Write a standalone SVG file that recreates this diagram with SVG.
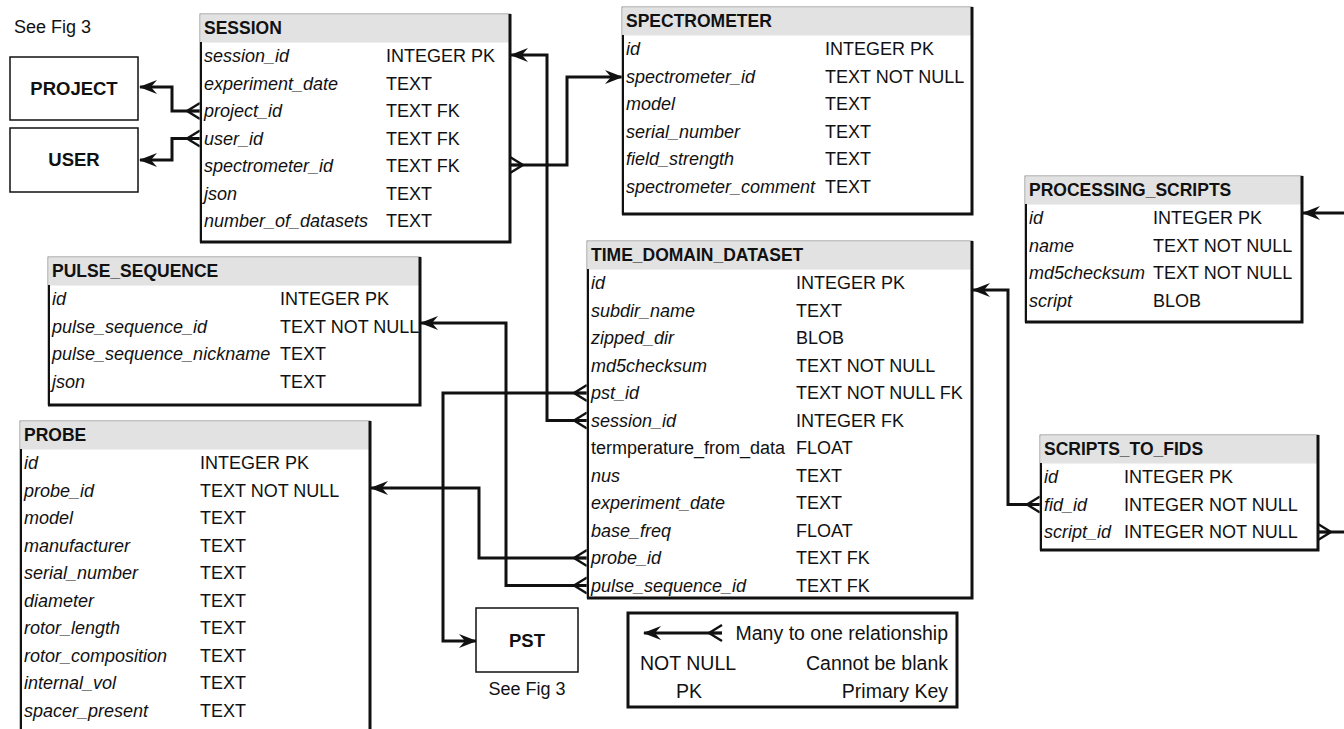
<svg xmlns="http://www.w3.org/2000/svg" width="1344" height="729" viewBox="0 0 1344 729">
<style>
.frame{fill:#fff;stroke:#8a8a8a;stroke-width:1}
.hdr{fill:#e2e2e2}
.edgeR{fill:none;stroke:#111;stroke-width:3}
.edgeL{fill:none;stroke:#111;stroke-width:2}
.box{fill:#fff;stroke:#111;stroke-width:1.5}
.n{font-family:"Liberation Sans",Arial,sans-serif;font-size:18px;font-style:italic;fill:#111}
.t{font-family:"Liberation Sans",Arial,sans-serif;font-size:18px;fill:#111}
.lg{font-family:"Liberation Sans",Arial,sans-serif;font-size:19.5px;fill:#111}
.h{font-family:"Liberation Sans",Arial,sans-serif;font-size:17.5px;font-weight:bold;fill:#111}
.b{font-family:"Liberation Sans",Arial,sans-serif;font-size:18.5px;font-weight:bold;fill:#111}
.conn{fill:none;stroke:#111;stroke-width:3}
</style>
<defs>
<marker id="arrow" viewBox="0 0 18 14" refX="17" refY="7" markerWidth="18" markerHeight="14" markerUnits="userSpaceOnUse" orient="auto">
<path d="M18,7 L0,0 L6,7 L0,14 Z" fill="#111"/>
</marker>
<marker id="crow" viewBox="-1 -10 16 20" refX="0" refY="0" markerWidth="16" markerHeight="20" markerUnits="userSpaceOnUse" orient="auto">
<path d="M0,-8 L13,0 M0,0 L13,0 M0,8 L13,0" fill="none" stroke="#111" stroke-width="2.4"/>
</marker>
</defs>

<g id="connectors">
<path class="conn" d="M200,111 H172 V87 H140" marker-start="url(#crow)" marker-end="url(#arrow)"/>
<path class="conn" d="M200,138.5 H172 V160 H140" marker-start="url(#crow)" marker-end="url(#arrow)"/>
<path class="conn" d="M510,165 H567 V77 H622" marker-start="url(#crow)" marker-end="url(#arrow)"/>
<path class="conn" d="M587,420.5 H547 V55 H511" marker-start="url(#crow)" marker-end="url(#arrow)"/>
<path class="conn" d="M587,393 H443 V641 H476" marker-start="url(#crow)" marker-end="url(#arrow)"/>
<path class="conn" d="M587,558 H479 V488 H371" marker-start="url(#crow)" marker-end="url(#arrow)"/>
<path class="conn" d="M587,585.5 H506 V323 H421" marker-start="url(#crow)" marker-end="url(#arrow)"/>
<path class="conn" d="M1040,504.5 H1008 V290 H973" marker-start="url(#crow)" marker-end="url(#arrow)"/>
<path class="conn" d="M1344,213 H1303" marker-end="url(#arrow)"/>
<path class="conn" d="M1318,532 H1344" marker-start="url(#crow)"/>
</g>

<text class="t" x="14" y="33">See Fig 3</text>

<g id="project">
<rect class="box" x="10" y="57" width="128" height="63"/>
<text class="b" x="74" y="95" text-anchor="middle">PROJECT</text>
</g>
<g id="user">
<rect class="box" x="10" y="128" width="128" height="64"/>
<text class="b" x="74" y="166" text-anchor="middle">USER</text>
</g>

<g id="session">
<rect class="frame" x="200" y="14" width="310" height="228"/>
<rect class="hdr" x="200.5" y="14.5" width="309" height="28"/>
<path class="edgeL" d="M201,42 V242"/>
<path class="edgeR" d="M200,242 H510 V14"/>
<text class="h" x="204" y="34">SESSION</text>
<text class="n" x="204" y="62">session_id</text><text class="t" x="386" y="62">INTEGER PK</text>
<text class="n" x="204" y="89.5">experiment_date</text><text class="t" x="386" y="89.5">TEXT</text>
<text class="n" x="204" y="117">project_id</text><text class="t" x="386" y="117">TEXT FK</text>
<text class="n" x="204" y="144.5">user_id</text><text class="t" x="386" y="144.5">TEXT FK</text>
<text class="n" x="204" y="172">spectrometer_id</text><text class="t" x="386" y="172">TEXT FK</text>
<text class="n" x="204" y="199.5">json</text><text class="t" x="386" y="199.5">TEXT</text>
<text class="n" x="204" y="227">number_of_datasets</text><text class="t" x="386" y="227">TEXT</text>
</g>

<g id="spectrometer">
<rect class="frame" x="622" y="7" width="350" height="207"/>
<rect class="hdr" x="622.5" y="7.5" width="349" height="28"/>
<path class="edgeL" d="M623,35 V214"/>
<path class="edgeR" d="M622,214 H972 V7"/>
<text class="h" x="626" y="27">SPECTROMETER</text>
<text class="n" x="626" y="55">id</text><text class="t" x="825" y="55">INTEGER PK</text>
<text class="n" x="626" y="82.5">spectrometer_id</text><text class="t" x="825" y="82.5">TEXT NOT NULL</text>
<text class="n" x="626" y="110">model</text><text class="t" x="825" y="110">TEXT</text>
<text class="n" x="626" y="137.5">serial_number</text><text class="t" x="825" y="137.5">TEXT</text>
<text class="n" x="626" y="165">field_strength</text><text class="t" x="825" y="165">TEXT</text>
<text class="n" x="626" y="192.5">spectrometer_comment</text><text class="t" x="825" y="192.5">TEXT</text>
</g>

<g id="processing_scripts">
<rect class="frame" x="1025" y="176" width="277" height="146"/>
<rect class="hdr" x="1025.5" y="176.5" width="276" height="28"/>
<path class="edgeL" d="M1026,204 V322"/>
<path class="edgeR" d="M1025,322 H1302 V176"/>
<text class="h" x="1029" y="196">PROCESSING_SCRIPTS</text>
<text class="n" x="1029" y="224">id</text><text class="t" x="1153" y="224">INTEGER PK</text>
<text class="n" x="1029" y="251.5">name</text><text class="t" x="1153" y="251.5">TEXT NOT NULL</text>
<text class="n" x="1029" y="279">md5checksum</text><text class="t" x="1153" y="279">TEXT NOT NULL</text>
<text class="n" x="1029" y="306.5">script</text><text class="t" x="1153" y="306.5">BLOB</text>
</g>

<g id="pulse_sequence">
<rect class="frame" x="48" y="257" width="372" height="148"/>
<rect class="hdr" x="48.5" y="257.5" width="371" height="28"/>
<path class="edgeL" d="M49,285 V405"/>
<path class="edgeR" d="M48,405 H420 V257"/>
<text class="h" x="52" y="277">PULSE_SEQUENCE</text>
<text class="n" x="52" y="305">id</text><text class="t" x="280" y="305">INTEGER PK</text>
<text class="n" x="52" y="332.5">pulse_sequence_id</text><text class="t" x="280" y="332.5">TEXT NOT NULL</text>
<text class="n" x="52" y="360">pulse_sequence_nickname</text><text class="t" x="280" y="360">TEXT</text>
<text class="n" x="52" y="387.5">json</text><text class="t" x="280" y="387.5">TEXT</text>
</g>

<g id="time_domain_dataset">
<rect class="frame" x="587" y="241" width="385" height="357"/>
<rect class="hdr" x="587.5" y="241.5" width="384" height="28"/>
<path class="edgeL" d="M588,269 V598"/>
<path class="edgeR" d="M587,598 H972 V241"/>
<text class="h" x="591" y="261">TIME_DOMAIN_DATASET</text>
<text class="n" x="591" y="289">id</text><text class="t" x="796" y="289">INTEGER PK</text>
<text class="n" x="591" y="316.5">subdir_name</text><text class="t" x="796" y="316.5">TEXT</text>
<text class="n" x="591" y="344">zipped_dir</text><text class="t" x="796" y="344">BLOB</text>
<text class="n" x="591" y="371.5">md5checksum</text><text class="t" x="796" y="371.5">TEXT NOT NULL</text>
<text class="n" x="591" y="399">pst_id</text><text class="t" x="796" y="399">TEXT NOT NULL FK</text>
<text class="n" x="591" y="426.5">session_id</text><text class="t" x="796" y="426.5">INTEGER FK</text>
<text class="t" x="591" y="454">termperature_from_data</text><text class="t" x="796" y="454">FLOAT</text>
<text class="n" x="591" y="481.5">nus</text><text class="t" x="796" y="481.5">TEXT</text>
<text class="n" x="591" y="509">experiment_date</text><text class="t" x="796" y="509">TEXT</text>
<text class="n" x="591" y="536.5">base_freq</text><text class="t" x="796" y="536.5">FLOAT</text>
<text class="n" x="591" y="564">probe_id</text><text class="t" x="796" y="564">TEXT FK</text>
<text class="n" x="591" y="591.5">pulse_sequence_id</text><text class="t" x="796" y="591.5">TEXT FK</text>
</g>

<g id="scripts_to_fids">
<rect class="frame" x="1040" y="435" width="278" height="115"/>
<rect class="hdr" x="1040.5" y="435.5" width="277" height="28"/>
<path class="edgeL" d="M1041,463 V550"/>
<path class="edgeR" d="M1040,550 H1318 V435"/>
<text class="h" x="1044" y="455">SCRIPTS_TO_FIDS</text>
<text class="n" x="1044" y="483">id</text><text class="t" x="1124" y="483">INTEGER PK</text>
<text class="n" x="1044" y="510.5">fid_id</text><text class="t" x="1124" y="510.5">INTEGER NOT NULL</text>
<text class="n" x="1044" y="538">script_id</text><text class="t" x="1124" y="538">INTEGER NOT NULL</text>
</g>

<g id="probe">
<rect class="frame" x="20" y="421" width="350" height="330"/>
<rect class="hdr" x="20.5" y="421.5" width="349" height="28"/>
<path class="edgeL" d="M21,449 V751"/>
<path class="edgeR" d="M20,751 H370 V421"/>
<text class="h" x="24" y="441">PROBE</text>
<text class="n" x="24" y="469">id</text><text class="t" x="200" y="469">INTEGER PK</text>
<text class="n" x="24" y="496.5">probe_id</text><text class="t" x="200" y="496.5">TEXT NOT NULL</text>
<text class="n" x="24" y="524">model</text><text class="t" x="200" y="524">TEXT</text>
<text class="n" x="24" y="551.5">manufacturer</text><text class="t" x="200" y="551.5">TEXT</text>
<text class="n" x="24" y="579">serial_number</text><text class="t" x="200" y="579">TEXT</text>
<text class="n" x="24" y="606.5">diameter</text><text class="t" x="200" y="606.5">TEXT</text>
<text class="n" x="24" y="634">rotor_length</text><text class="t" x="200" y="634">TEXT</text>
<text class="n" x="24" y="661.5">rotor_composition</text><text class="t" x="200" y="661.5">TEXT</text>
<text class="n" x="24" y="689">internal_vol</text><text class="t" x="200" y="689">TEXT</text>
<text class="n" x="24" y="716.5">spacer_present</text><text class="t" x="200" y="716.5">TEXT</text>
</g>

<g id="pst">
<rect class="box" x="476" y="608" width="102" height="64"/>
<text class="b" x="527" y="647" text-anchor="middle">PST</text>
<text class="t" x="527" y="695" text-anchor="middle">See Fig 3</text>
</g>

<g id="legend">
<rect x="628" y="613" width="329" height="94" fill="#fff" stroke="#111" stroke-width="3"/>
<path class="conn" d="M722,633 H644" marker-start="url(#crow)" marker-end="url(#arrow)"/>
<text class="lg" x="948" y="640" text-anchor="end">Many to one relationship</text>
<text class="lg" x="640" y="670">NOT NULL</text>
<text class="lg" x="948" y="670" text-anchor="end">Cannot be blank</text>
<text class="lg" x="676" y="698">PK</text>
<text class="lg" x="948" y="698" text-anchor="end">Primary Key</text>
</g>
</svg>
